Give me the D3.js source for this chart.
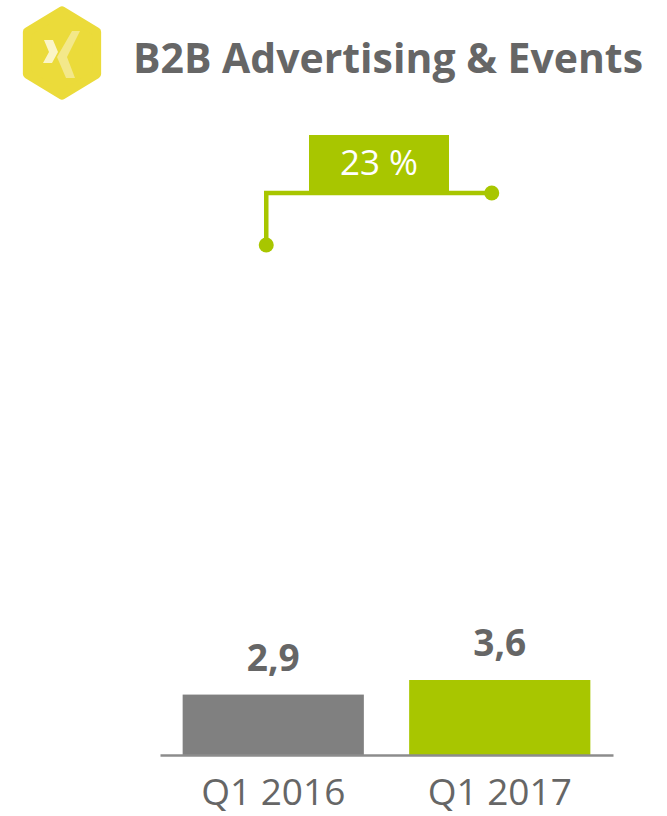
<!DOCTYPE html>
<html>
<head>
<meta charset="utf-8">
<script src="https://cdn.jsdelivr.net/npm/d3@7"></script>
<style>
  body { margin: 0; background: #fff; }
  svg { display: block; }
</style>
</head>
<body>
<div id="chart"></div>
<script>
// data
const categories = ['Q1 2016', 'Q1 2017'];
const values = [2.9, 3.6];
const valueLabels = ['2,9', '3,6'];
const growthLabel = '23 %';
const title = 'B2B Advertising & Events';

const width = 667, height = 816;
const green = '#a8c600', grey = '#808080', textGrey = '#666666';
const font = '"Open Sans", "Noto Sans", sans-serif';

const svg = d3.select('#chart').append('svg')
  .attr('width', width)
  .attr('height', height);

// logo (hexagon with X)
const logo = svg.append('g').attr('transform', 'translate(62,53)');
const hex = d3.range(6).map(i => {
  const a = Math.PI / 3 * i - Math.PI / 2;
  return [Math.cos(a) * 43, Math.sin(a) * 43];
});
logo.append('path')
  .attr('d', d3.line().curve(d3.curveLinearClosed)(hex.map(p => [p[0] * 0.93, p[1] * 0.98])))
  .attr('fill', '#ebdb3a')
  .attr('stroke', '#ebdb3a')
  .attr('stroke-width', 9)
  .attr('stroke-linejoin', 'round');
logo.append('path')
  .attr('d', 'M-18,-13 L-9,-13 L-4,-1 L-10,10 L-19,10 L-13,-1 Z')
  .attr('fill', '#fbf5c6');
logo.append('path')
  .attr('d', 'M10,-22 L18,-22 L5,4 L13,25 L4,25 L-5,4 Z')
  .attr('fill', '#f3e88a');

svg.append('text')
  .attr('x', 133)
  .attr('y', 73)
  .attr('textLength', 510)
  .attr('lengthAdjust', 'spacingAndGlyphs')
  .attr('font-family', font)
  .attr('font-weight', 700)
  .attr('font-size', 42)
  .attr('fill', textGrey)
  .text(title);

// scales
const baseline = 755;
const x = d3.scaleBand()
  .domain(categories)
  .range([160, 613])
  .paddingInner(0.2)
  .paddingOuter(0.1);

const y = d3.scaleLinear()
  .domain([0, 3.6])
  .range([baseline, 680]);

// bars
svg.selectAll('rect.bar')
  .data(values)
  .join('rect')
  .attr('class', 'bar')
  .attr('x', (d, i) => x(categories[i]))
  .attr('y', d => y(d))
  .attr('width', x.bandwidth())
  .attr('height', d => baseline - y(d))
  .attr('fill', (d, i) => i === 0 ? grey : green);

// baseline axis
const axis = svg.append('g')
  .attr('transform', `translate(0,${baseline})`)
  .call(d3.axisBottom(x).tickSize(0).tickPadding(24));
axis.select('.domain')
  .attr('stroke', '#8c8c8c')
  .attr('stroke-width', 2.5);
axis.selectAll('.tick text')
  .attr('font-family', font)
  .attr('font-size', 37)
  .attr('fill', textGrey);

// value labels
svg.selectAll('text.val')
  .data(values)
  .join('text')
  .attr('class', 'val')
  .attr('x', (d, i) => x(categories[i]) + x.bandwidth() / 2)
  .attr('y', d => y(d) - 24)
  .attr('text-anchor', 'middle')
  .attr('font-family', font)
  .attr('font-weight', 700)
  .attr('font-size', 37)
  .attr('fill', textGrey)
  .text((d, i) => valueLabels[i]);

// growth bracket
const c0 = x(categories[0]) + x.bandwidth() / 2 - 7;
const c1 = x(categories[1]) + x.bandwidth() / 2 - 8;
const yLow = 245, yHigh = 193;
svg.append('path')
  .attr('d', `M${c0},${yLow} V${yHigh} H${c1}`)
  .attr('fill', 'none')
  .attr('stroke', green)
  .attr('stroke-width', 4.5);
svg.selectAll('circle.dot')
  .data([[c0, yLow], [c1, yHigh]])
  .join('circle')
  .attr('class', 'dot')
  .attr('cx', d => d[0])
  .attr('cy', d => d[1])
  .attr('r', 7.5)
  .attr('fill', green);

const boxW = 140, boxH = 58;
const boxX = (c0 + c1) / 2 - boxW / 2;
svg.append('rect')
  .attr('x', boxX)
  .attr('y', yHigh - boxH)
  .attr('width', boxW)
  .attr('height', boxH)
  .attr('fill', green);
svg.append('text')
  .attr('x', boxX + boxW / 2)
  .attr('y', 175)
  .attr('text-anchor', 'middle')
  .attr('font-family', font)
  .attr('font-size', 35)
  .attr('fill', '#fff')
  .text(growthLabel);
</script>
</body>
</html>
